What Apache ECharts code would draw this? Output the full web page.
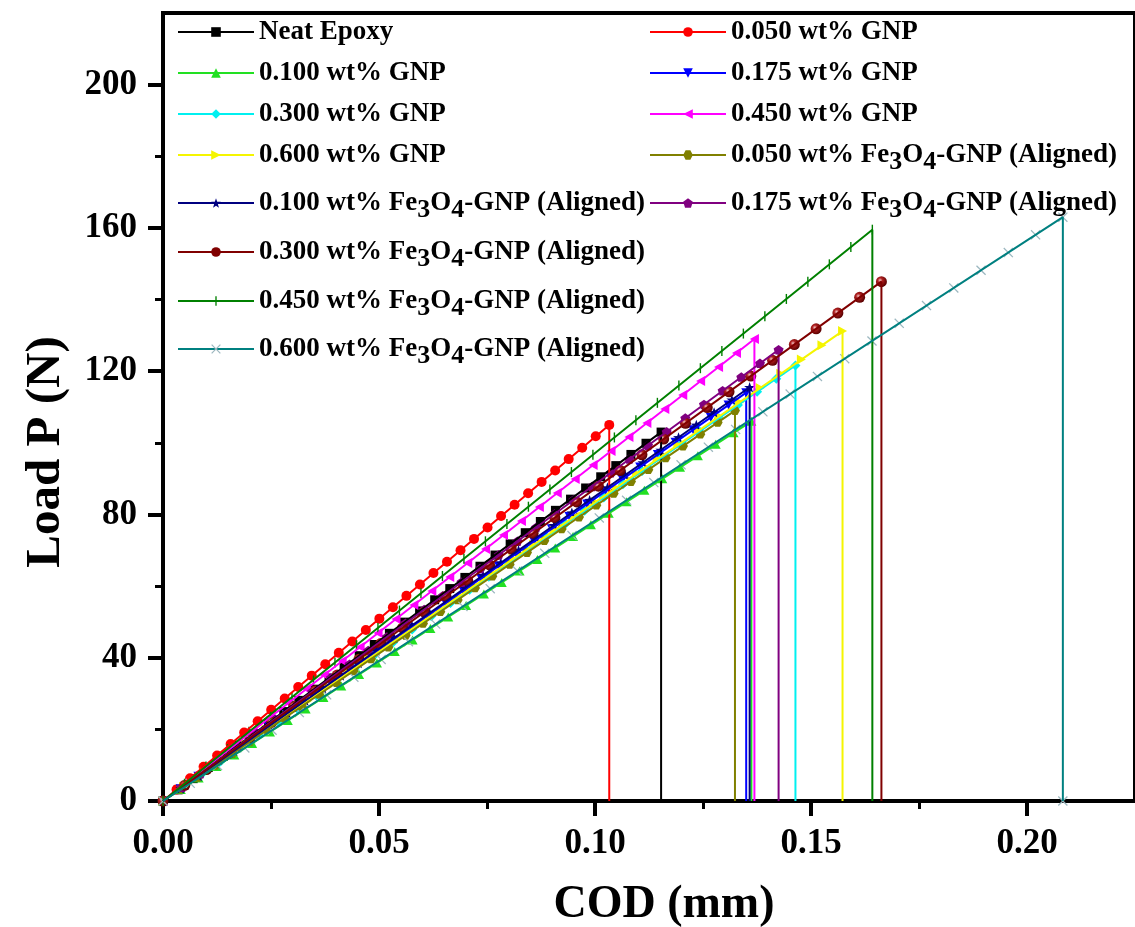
<!DOCTYPE html>
<html>
<head>
<meta charset="utf-8">
<script src="https://cdn.jsdelivr.net/npm/echarts@6/dist/echarts.min.js"></script>
<style>
  html, body { margin: 0; padding: 0; background: #ffffff; }
  #chart { width: 1135px; height: 927px; }
</style>
</head>
<body>
<div id="chart"></div>
<script>
// ---- data: load–COD response, linear to the peak then sudden fracture ----
const sampleNames = [
  'Neat Epoxy',
  '0.050 wt% GNP',
  '0.100 wt% GNP',
  '0.175 wt% GNP',
  '0.300 wt% GNP',
  '0.450 wt% GNP',
  '0.600 wt% GNP',
  '0.050 wt% Fe3O4-GNP (Aligned)',
  '0.100 wt% Fe3O4-GNP (Aligned)',
  '0.175 wt% Fe3O4-GNP (Aligned)',
  '0.300 wt% Fe3O4-GNP (Aligned)',
  '0.450 wt% Fe3O4-GNP (Aligned)',
  '0.600 wt% Fe3O4-GNP (Aligned)'
];
// COD at fracture (mm)
const peakCOD = [0.1153, 0.1033, 0.1362, 0.1350, 0.1464, 0.1369, 0.1573, 0.1324, 0.1358, 0.1425, 0.1663, 0.1642, 0.2083];
// peak load (N)
const peakLoad = [103, 105, 106, 114, 121.6, 129, 131.2, 109, 115.5, 126, 145, 159.5, 163];

const xMajorTicks = [0, 0.05, 0.10, 0.15, 0.20];
const xMinorTicks = [0.025, 0.075, 0.125, 0.175];
const yMajorTicks = [0, 40, 80, 120, 160, 200];
const yMinorTicks = [20, 60, 100, 140, 180];

// ---- styling ----
const FONT = '"Liberation Serif", "Times New Roman", serif';
const lineColors = ['#000000', '#ff0000', '#22e022', '#0000ff', '#00f0f0', '#ff00ff', '#f5f500',
  '#808000', '#000080', '#800080', '#800000', '#008000', '#008080'];
const markerColors = ['#000000', '#ff0000', '#22e022', '#0000ff', '#00f0f0', '#ff00ff', '#f5f500',
  '#808000', '#000080', '#800080', '#800000', '#008000', '#9db8c0'];
const markerShapes = ['square', 'circle', 'triangle', 'triangleDown', 'diamond', 'triangleLeft', 'triangleRight',
  'hexagon', 'star', 'pentagon', 'sphere', 'bar', 'cross'];
const markerSizes = [9, 10, 10, 10, 10, 10, 10, 10, 11, 10, 11, 10, 10];
const dropMarker = [false, false, false, false, false, false, false, false, false, false, false, false, true];
const MARKER_STEPS = 33;

// legend slots: [column, row centre y]
const legendSlots = [[0, 32], [1, 32], [0, 73], [1, 73], [0, 114], [1, 114], [0, 155], [1, 155],
  [0, 203], [1, 203], [0, 252], [0, 301], [0, 349]];
const legendColumnX = [177, 649];

const SHAPE_PATHS = {
  square: 'M0,0L10,0L10,10L0,10Z',
  circle: 'M0,5A5,5,0,1,1,10,5A5,5,0,1,1,0,5Z',
  sphere: 'M0,5A5,5,0,1,1,10,5A5,5,0,1,1,0,5Z',
  triangle: 'M5,0L10,9L0,9Z',
  triangleDown: 'M0,0L10,0L5,9Z',
  diamond: 'M5,0L10,5L5,10L0,5Z',
  triangleLeft: 'M0,5L9,0L9,10Z',
  triangleRight: 'M0,0L9,5L0,10Z',
  hexagon: 'M0,5L2.5,0.67L7.5,0.67L10,5L7.5,9.33L2.5,9.33Z',
  star: 'M5,0L6.18,3.38L9.76,3.46L6.9,5.62L7.94,9.05L5,7L2.06,9.05L3.1,5.62L0.24,3.46L3.82,3.38Z',
  pentagon: 'M5,0L9.76,3.46L7.94,9.05L2.06,9.05L0.24,3.46Z',
  bar: 'M0,0M10,10M4.3,0L5.7,0L5.7,10L4.3,10Z',
  cross: 'M0,0.9L0.9,0L5,4.1L9.1,0L10,0.9L5.9,5L10,9.1L9.1,10L5,5.9L0.9,10L0,9.1L4.1,5Z'
};

function markerFill(i) {
  if (markerShapes[i] === 'sphere') {
    return new echarts.graphic.RadialGradient(0.38, 0.38, 0.62, [
      { offset: 0, color: '#f4c8c8' },
      { offset: 0.35, color: '#b02020' },
      { offset: 1, color: '#5a0000' }
    ]);
  }
  return markerColors[i];
}

function markerRenderer(i) {
  return function (params, api) {
    const top = api.coord([api.value(0), api.value(1)]);
    const base = api.coord([0, 0]);
    const pts = [];
    for (let k = 0; k <= MARKER_STEPS; k++) {
      const t = k / MARKER_STEPS;
      pts.push([base[0] + (top[0] - base[0]) * t, base[1] + (top[1] - base[1]) * t]);
    }
    if (dropMarker[i]) pts.push(api.coord([api.value(0), 0]));
    const s = markerSizes[i];
    const fill = markerFill(i);
    return {
      type: 'group',
      children: pts.map(function (p) {
        return {
          type: 'path',
          shape: { pathData: SHAPE_PATHS[markerShapes[i]], x: p[0] - s / 2, y: p[1] - s / 2, width: s, height: s },
          style: { fill: fill }
        };
      })
    };
  };
}

const series = [];
sampleNames.forEach(function (name, i) {
  series.push({
    type: 'line',
    name: name,
    data: [[0, 0], [peakCOD[i], peakLoad[i]], [peakCOD[i], 0]],
    symbol: markerShapes[i] === 'sphere' ? 'circle' : 'path://' + SHAPE_PATHS[markerShapes[i]],
    symbolSize: markerSizes[i],
    showSymbol: false,
    lineStyle: { color: lineColors[i], width: 2 },
    itemStyle: { color: markerColors[i] },
    silent: true,
    emphasis: { disabled: true },
    animation: false
  });
  series.push({
    type: 'custom',
    name: name,
    data: [[peakCOD[i], peakLoad[i]]],
    encode: { x: 0, y: 1 },
    renderItem: markerRenderer(i),
    silent: true,
    clip: false,
    animation: false
  });
});

const legends = sampleNames.map(function (name, i) {
  const slot = legendSlots[i];
  return {
    data: [name],
    left: legendColumnX[slot[0]],
    top: slot[1] - 15,
    orient: 'horizontal',
    padding: 0,
    itemWidth: 76,
    itemHeight: 12,
    selectedMode: false,
    formatter: function (n) { return n.replace('Fe3O4', 'Fe{s|3}O{s|4}'); },
    textStyle: {
      fontFamily: FONT, fontWeight: 'bold', fontSize: 27, color: '#000', lineHeight: 30,
      rich: {
        s: { fontFamily: FONT, fontWeight: 'bold', fontSize: 26, color: '#000', padding: [14, 0, 0, 0] }
      }
    }
  };
});

const axisLabelStyle = { fontFamily: FONT, fontWeight: 'bold', fontSize: 35, color: '#000' };

const option = {
  animation: false,
  backgroundColor: '#ffffff',
  grid: {
    left: 163, top: 13, width: 977, height: 788,
    show: true, borderColor: '#000', borderWidth: 4, backgroundColor: 'transparent'
  },
  legend: legends,
  xAxis: [
    {
      type: 'value', min: 0, max: 0.225, position: 'bottom',
      axisLine: { show: true, lineStyle: { color: '#000', width: 4 } },
      axisTick: { show: true, customValues: xMajorTicks, length: 15, lineStyle: { color: '#000', width: 4 } },
      axisLabel: Object.assign({ customValues: xMajorTicks, margin: 25,
        formatter: function (v) { return v.toFixed(2); } }, axisLabelStyle),
      splitLine: { show: false }
    },
    {
      type: 'value', min: 0, max: 0.225, position: 'bottom',
      axisLine: { show: false },
      axisTick: { show: true, customValues: xMinorTicks, length: 8, lineStyle: { color: '#000', width: 3 } },
      axisLabel: { show: false },
      splitLine: { show: false }
    }
  ],
  yAxis: [
    {
      type: 'value', min: 0, max: 220, position: 'left',
      axisLine: { show: true, lineStyle: { color: '#000', width: 4 } },
      axisTick: { show: true, customValues: yMajorTicks, length: 15, lineStyle: { color: '#000', width: 4 } },
      axisLabel: Object.assign({ customValues: yMajorTicks, margin: 26 }, axisLabelStyle),
      splitLine: { show: false }
    },
    {
      type: 'value', min: 0, max: 220, position: 'left',
      axisLine: { show: false },
      axisTick: { show: true, customValues: yMinorTicks, length: 8, lineStyle: { color: '#000', width: 3 } },
      axisLabel: { show: false },
      splitLine: { show: false }
    }
  ],
  graphic: [
    {
      type: 'text', x: 664, y: 905,
      style: { text: 'COD (mm)', fontFamily: FONT, fontWeight: 'bold', fontSize: 46, fill: '#000',
        textAlign: 'center', textVerticalAlign: 'middle', verticalAlign: 'middle' }
    },
    {
      type: 'text', x: 46, y: 452, rotation: Math.PI / 2,
      style: { text: 'Load P (N)', fontFamily: FONT, fontWeight: 'bold', fontSize: 49, fill: '#000',
        textAlign: 'center', textVerticalAlign: 'middle', verticalAlign: 'middle' }
    }
  ],
  series: series
};

const chart = echarts.init(document.getElementById('chart'), null, { renderer: 'canvas' });
chart.setOption(option);
</script>
</body>
</html>
